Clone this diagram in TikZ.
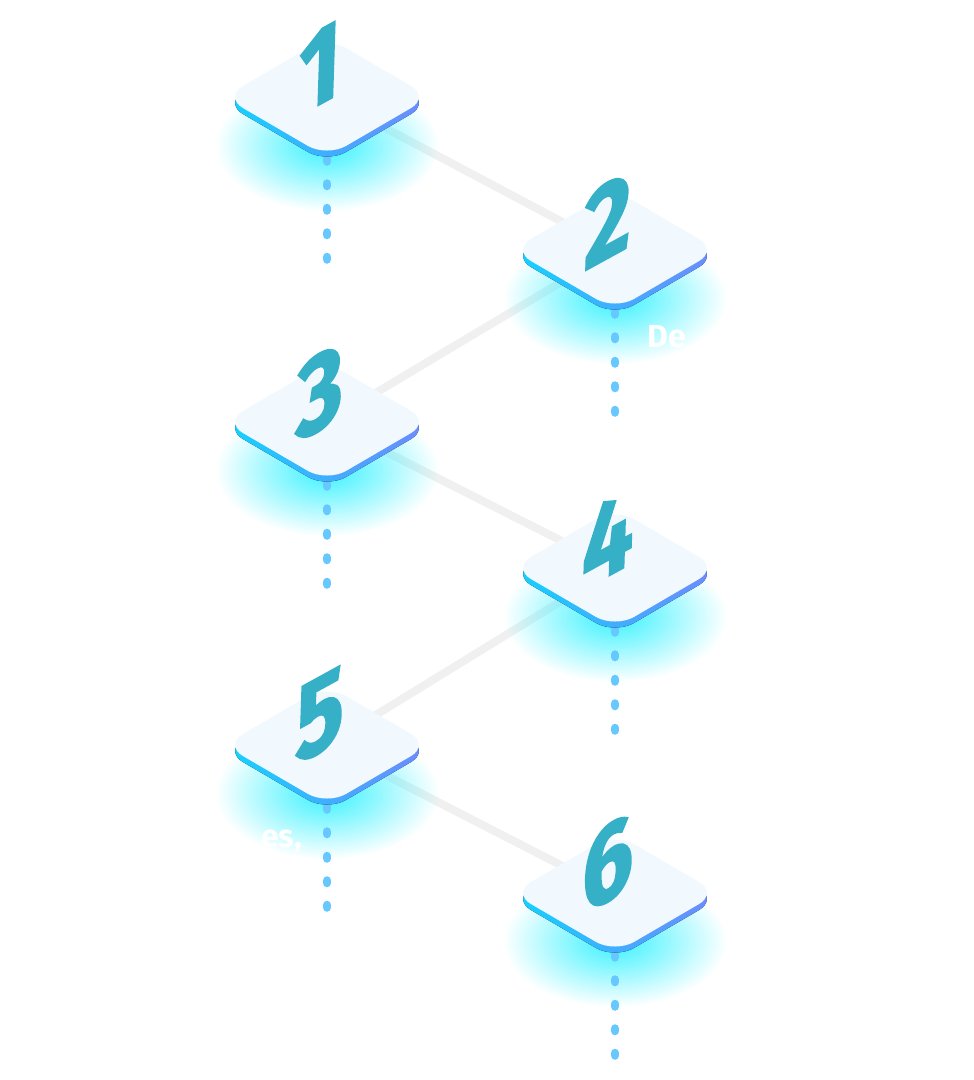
\documentclass[tikz,border=0pt]{standalone}
\usepackage{fontspec}
\usetikzlibrary{calc,fadings}
\newfontfamily\digitfont{Fira Sans}[BoldFeatures={FakeBold=2}]
\newfontfamily\labelfont{Fira Sans}

\definecolor{platetop}{HTML}{F1F8FE}
\definecolor{sideleft}{HTML}{10D4FF}
\definecolor{sideright}{HTML}{7088FF}
\definecolor{glowcyan}{HTML}{38F2FF}
\definecolor{digitteal}{HTML}{36B0C6}
\definecolor{dotblue}{HTML}{66C8FF}
\definecolor{linkgray}{HTML}{F0F0F0}

\tikzfading[name=glowfade, inner color=transparent!0, outer color=transparent!100]

\tikzset{
  link/.style={draw=linkgray, line width=8pt},
  dotline/.style={draw=dotblue, line width=8.5pt, line cap=round, dash pattern=on 2.5pt off 22pt},
  digit/.style={font=\digitfont\bfseries\fontsize{110}{110}\selectfont, text=digitteal, inner sep=0pt, xscale=0.82, yslant=0.45, xslant=0.04},
  whitelabel/.style={font=\labelfont\bfseries\fontsize{32}{32}\selectfont, text=white, inner sep=0pt},
}

% glow, dots, plate and number of one step
\newcommand{\stepplate}[2]{%
  \fill[glowcyan, path fading=glowfade] ($(#1)+(0,48)$) ellipse [x radius=112, y radius=66];
  \coordinate (#1top) at ($(#1)+(0,62)$);
  \coordinate (#1end) at ($(#1)+(0,164)$);
  \draw[dotline] (#1top) -- (#1end);
  \fill[left color=sideleft, right color=sideright, rounded corners=22pt]
    ($(#1)+(-103,6)$) -- ($(#1)+(0,-54)$) -- ($(#1)+(103,6)$) -- ($(#1)+(0,66)$) -- cycle;
  \fill[platetop, rounded corners=22pt]
    ($(#1)+(-103,0)$) -- ($(#1)+(0,-60)$) -- ($(#1)+(103,0)$) -- ($(#1)+(0,60)$) -- cycle;
  \node[digit] (#1num) at ($(#1)+(-7,-30)$) {#2};
}

\begin{document}
\begin{tikzpicture}[x=1pt, y=-1pt]
  \useasboundingbox (0,0) rectangle (974,1080);

  \coordinate (p1) at (327,97);
  \coordinate (p2) at (615,250);
  \coordinate (p3) at (327,422);
  \coordinate (p4) at (615,568);
  \coordinate (p5) at (327,745);
  \coordinate (p6) at (615,893);

  % zig-zag links behind the plates
  \draw[link] (p1) -- (p2);
  \draw[link] (p2) -- (p3);
  \draw[link] (p3) -- (p4);
  \draw[link] (p4) -- (p5);
  \draw[link] (p5) -- (p6);

  \stepplate{p1}{1}
  \stepplate{p2}{2}
  \stepplate{p3}{3}
  \stepplate{p4}{4}
  \stepplate{p5}{5}
  \stepplate{p6}{6}

  % white captions, seen only on the glow
  \node[whitelabel, anchor=base west] (demo) at (647,347) {De};
  \node[whitelabel, anchor=base east] (ends) at (302,847) {es,};
\end{tikzpicture}
\end{document}
